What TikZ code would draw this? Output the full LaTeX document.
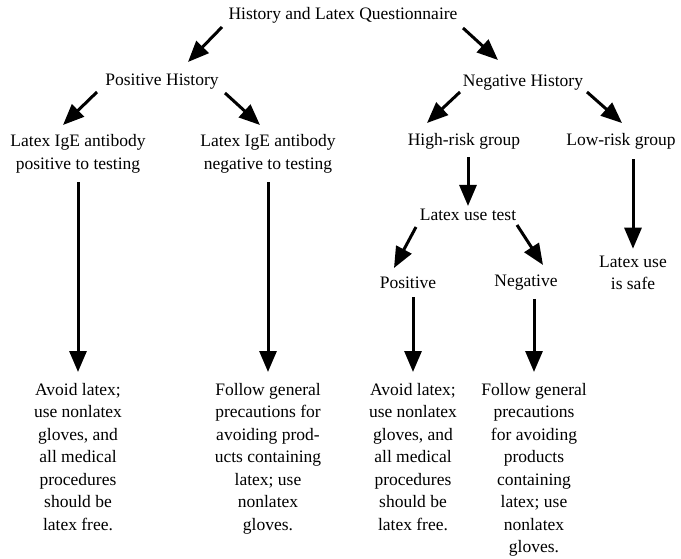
\documentclass[tikz,border=0pt]{standalone}
\usepackage{fontspec}
\setmainfont{Liberation Serif}
\usetikzlibrary{arrows.meta,positioning,calc}

\begin{document}
\begin{tikzpicture}[
  x=1pt, y=-1pt,
  font=\fontsize{17.5}{22.5}\selectfont,
  lbl/.style={inner sep=0pt, align=center},
  advice/.style={lbl, anchor=north},
  arrow/.style={-{Triangle[length=21pt,width=17pt]}, line width=3pt, draw=black},
]
\useasboundingbox (0,0) rectangle (681,559);
\node[lbl] (quest) at (343,15) {History and Latex Questionnaire};
\node[lbl] (poshist) at (162,82) {Positive History};
\node[lbl] (neghist) at (523,83) {Negative History};
\node[lbl] (igepos) at (78,154) {Latex IgE antibody\\positive to testing};
\node[lbl] (igeneg) at (268,154) {Latex IgE antibody\\negative to testing};
\node[lbl] (highrisk) at (464,141) {High-risk group};
\node[lbl] (lowrisk) at (621,141) {Low-risk group};
\node[lbl] (usetest) at (468,215) {Latex use test};
\node[lbl] (usepos) at (408,283) {Positive};
\node[lbl] (useneg) at (526,283) {Negative};
\node[lbl] (safe) at (633,273) {Latex use\\is safe};
\node[advice] (avoidA) at (78,383) {Avoid latex;\\use nonlatex\\gloves, and\\all medical\\procedures\\should be\\latex free.};
\node[advice] (followA) at (268,383) {Follow general\\precautions for\\avoiding prod-\\ucts containing\\latex; use\\nonlatex\\gloves.};
\node[advice] (avoidB) at (413,383) {Avoid latex;\\use nonlatex\\gloves, and\\all medical\\procedures\\should be\\latex free.};
\node[advice] (followB) at (534,383) {Follow general\\precautions\\for avoiding\\products\\containing\\latex; use\\nonlatex\\gloves.};

% diagonal branches
\draw[arrow] ($(quest)+(-121,12)$) -- ($(poshist)+(26,-20)$);
\draw[arrow] ($(quest)+(120,13)$) -- ($(neghist)+(-25,-23)$);
\draw[arrow] ($(poshist)+(-65,10)$) -- ($(igepos)+(-15,-29)$);
\draw[arrow] ($(poshist)+(63,11)$) -- ($(igeneg)+(-8,-29)$);
\draw[arrow] ($(neghist)+(-63,9)$) -- ($(highrisk)+(-37,-18)$);
\draw[arrow] ($(neghist)+(64,9)$) -- ($(lowrisk)+(1,-18)$);
\draw[arrow] ($(usetest)+(-52,12)$) -- ($(usepos)+(-14,-15)$);
\draw[arrow] ($(usetest)+(49,10)$) -- ($(useneg)+(17,-18)$);
% straight down
\draw[arrow, shorten <=8pt, shorten >=3pt] (highrisk.south -| usetest) -- (usetest.north);
\draw[arrow, shorten <=10pt, shorten >=7pt] (lowrisk.south -| safe) -- (safe.north);
\draw[arrow, shorten <=9pt, shorten >=11pt] (igepos.south) -- (igepos.south |- avoidA.north);
\draw[arrow, shorten <=9pt, shorten >=11pt] (igeneg.south) -- (igeneg.south |- followA.north);
\draw[arrow, shorten <=8pt, shorten >=11pt] (usepos.south -| avoidB) -- (avoidB.north);
\draw[arrow, shorten <=8pt, shorten >=11pt] (useneg.south -| followB) -- (followB.north);
\end{tikzpicture}
\end{document}
